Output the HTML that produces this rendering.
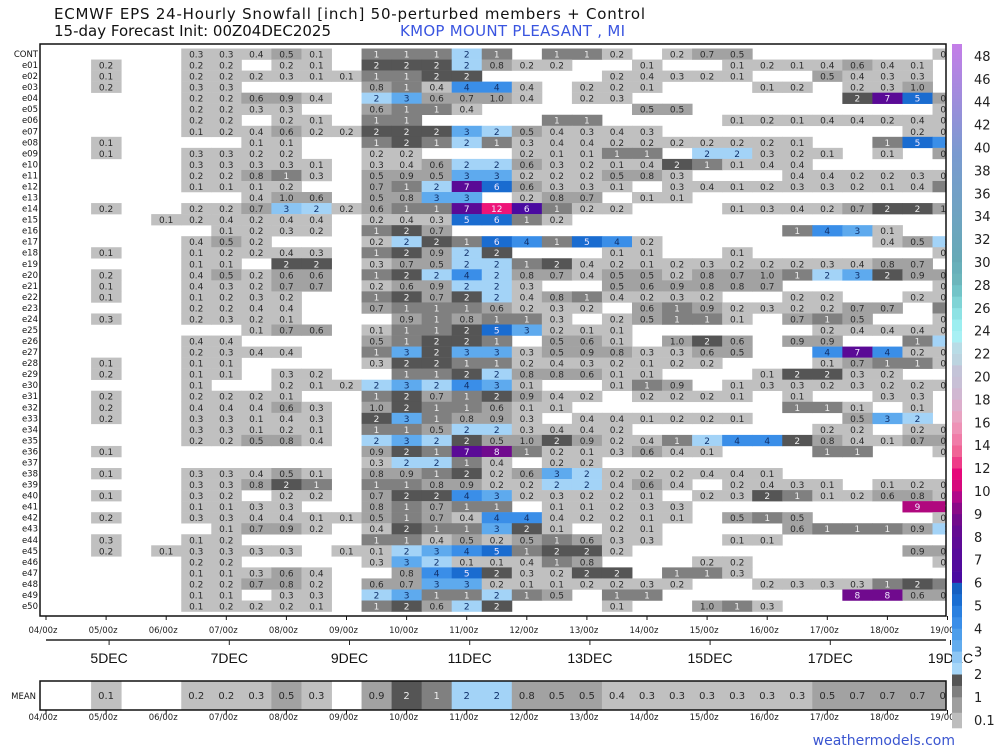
<!DOCTYPE html>
<html><head><meta charset="utf-8"><title>ECMWF EPS 24-Hourly Snowfall</title>
<style>
html,body{margin:0;padding:0;background:#fff;}
svg{display:block;font-family:"DejaVu Sans","Liberation Sans",sans-serif;}
</style></head>
<body>
<svg id="chart" width="1000" height="746" viewBox="0 0 1000 746" xmlns="http://www.w3.org/2000/svg">
  <text x="54" y="19" font-size="15" fill="#111" textLength="591" lengthAdjust="spacing">ECMWF EPS 24-Hourly Snowfall [inch]  50-perturbed members + Control</text>
  <text x="54" y="36" font-size="15" fill="#111">15-day Forecast Init: 00Z04DEC2025</text>
  <text x="400" y="36" font-size="15" fill="#3a55e0" textLength="225" lengthAdjust="spacing">KMOP MOUNT PLEASANT , MI</text>
  <defs>
    <clipPath id="gclip"><rect x="40" y="44" width="906" height="572"/></clipPath>
    <clipPath id="mclip"><rect x="40" y="681" width="906" height="29"/></clipPath>
    <linearGradient id="hiGrad" x1="0" y1="1" x2="0" y2="0">
      <stop offset="0" stop-color="#66aab6"/><stop offset="0.5" stop-color="#7a9ad0"/><stop offset="1" stop-color="#c47ee8"/>
    </linearGradient>
  </defs>
  <g id="grid" clip-path="url(#gclip)"></g>
  <rect x="40" y="44" width="906" height="572" fill="none" stroke="#111" stroke-width="1.5"/>
  <g id="rowlabels"></g>
  <g id="xaxis"></g>
  <g id="mean" clip-path="url(#mclip)"></g>
  <rect x="40" y="681" width="906" height="29" fill="none" stroke="#111" stroke-width="1.5"/>
  <text x="36" y="699" font-size="8.5" text-anchor="end" fill="#111">MEAN</text>
  <g id="cbar"></g>
  <text x="955" y="745" font-size="14" text-anchor="end" fill="#3a55d0">weathermodels.com</text>
</svg>
<script>
const members = ["CONT"].concat(Array.from({length:50},(_,i)=>"e"+String(i+1).padStart(2,"0")));
const rowCells = [
"5:.3 6:.3 7:.4 8:.5 9:.1 11:1.2 12:1.2 13:1.2 14:2.2 15:1.2 17:1.2 18:1.2 19:.2 21:.2 22:.7 23:.5 30:.1",
"2:.2 5:.2 6:.2 8:.2 9:.1 11:1.8 12:1.8 13:1.8 14:2.2 15:.8 16:.2 17:.2 20:.1 23:.1 24:.2 25:.1 26:.4 27:.6 28:.4 29:.1",
"2:.1 5:.2 6:.2 7:.2 8:.3 9:.1 10:.1 11:1.2 12:1.2 13:1.8 14:1.8 19:.2 20:.4 21:.3 22:.2 23:.1 26:.5 27:.4 28:.3 29:.3",
"2:.2 5:.3 6:.3 11:.8 12:1.2 13:.4 14:4.2 15:4.2 16:.4 18:.2 19:.2 20:.1 24:.1 25:.2 27:.2 28:.3 29:.97",
"5:.2 6:.2 7:.6 8:.9 9:.4 11:2.2 12:3.2 13:.6 14:.7 15:.97 16:.4 18:.2 19:.3 27:1.8 28:7.2 29:5.2 30:.8",
"5:.2 6:.2 7:.3 8:.3 11:.6 12:1.2 13:1.2 14:.4 20:.5 21:.5 30:.1",
"5:.2 6:.2 8:.2 9:.1 11:1.2 12:1.2 17:1.2 18:1.2 23:.1 24:.2 25:.1 26:.4 27:.4 28:.2 29:.4 30:.2",
"5:.1 6:.2 7:.4 8:.6 9:.2 10:.2 11:1.8 12:1.8 13:1.8 14:3.2 15:2.2 16:.5 17:.4 18:.3 19:.4 20:.3 29:.2 30:.1",
"2:.1 7:.1 8:.1 11:1.2 12:1.8 13:1.2 14:2.2 15:1.2 16:.3 17:.4 18:.4 19:.2 20:.2 21:.2 22:.2 23:.2 24:.2 25:.1 28:1.2 29:5.2 30:4.2",
"2:.1 5:.3 6:.3 7:.2 8:.2 11:.2 12:.2 16:.2 17:.1 18:.1 19:1.2 20:1.2 22:2.2 23:2.2 24:.3 25:.2 26:.1 28:.1 30:.9",
"5:.3 6:.3 7:.3 8:.3 9:.1 11:.3 12:.4 13:.6 14:2.2 15:2.2 16:.6 17:.3 18:.2 19:.1 20:.4 21:1.8 22:1.2 23:.1 24:.4 25:.4",
"5:.2 6:.2 7:.8 8:1.2 9:.3 11:.5 12:.9 13:.5 14:3.2 15:3.2 16:.2 17:.2 18:.2 19:.5 20:.8 21:.3 25:.4 26:.4 27:.2 28:.2 29:.3 30:.2",
"5:.1 6:.1 7:.1 8:.2 11:.7 12:1.2 13:2.2 14:7.2 15:5.8 16:.6 17:.3 18:.3 19:.1 21:.3 22:.4 23:.1 24:.2 25:.3 26:.3 27:.2 28:.1 29:.4 30:1.2",
"7:.4 8:.97 9:.6 11:.5 12:.8 13:3.2 14:3.2 16:.2 17:.8 18:.7 20:.1 21:.1",
"2:.2 5:.2 6:.2 7:.7 8:2.8 9:2.2 10:.2 11:.6 12:1.2 13:1.2 14:7.2 15:12 16:6.3 17:1.2 18:.2 19:.2 23:.1 24:.3 25:.4 26:.2 27:.7 28:1.8 29:1.8 30:.97",
"4:.1 5:.2 6:.4 7:.2 8:.4 9:.4 11:.2 12:.4 13:.3 14:5.2 15:5.8 16:1.2 17:.2",
"6:.1 7:.2 8:.3 9:.2 11:1.2 12:1.8 13:.7 25:1.2 26:4.2 27:3.2 28:.1",
"5:.4 6:.5 7:.2 11:.2 12:2.2 13:1.8 14:1.2 15:5.8 16:4.2 17:1.2 18:5.2 19:4.2 20:.2 28:.4 29:.5 30:2.2",
"2:.1 5:.1 6:.2 7:.2 8:.4 9:.3 11:1.2 12:1.8 13:.9 14:2.2 15:1.8 19:.1 20:.1 23:.1 30:.2",
"5:.1 6:.1 8:1.8 9:1.8 11:.3 12:.7 13:.5 14:2.2 15:2.2 16:1.2 17:1.8 18:.4 19:.2 20:.1 21:.2 22:.3 23:.2 24:.2 25:.2 26:.3 27:.4 28:.8 29:.7",
"2:.2 5:.4 6:.5 7:.2 8:.6 9:.6 11:1.2 12:1.8 13:2.2 14:4.2 15:2.2 16:.8 17:.7 18:.4 19:.5 20:.5 21:.2 22:.8 23:.7 24:.97 25:1.2 26:2.2 27:3.2 28:1.8 29:.9 30:.5",
"2:.1 5:.4 6:.3 7:.2 8:.7 9:.7 11:.2 12:.6 13:.9 14:2.2 15:2.2 16:.3 19:.5 20:.6 21:.9 22:.8 23:.8 24:.7 30:.1",
"2:.1 5:.1 6:.2 7:.3 8:.2 11:1.2 12:1.8 13:.7 14:1.8 15:2.2 16:.4 17:.8 18:1.2 19:.4 20:.2 21:.3 22:.2 25:.2 26:.2 29:.2 30:.2",
"5:.2 6:.2 7:.4 8:.4 11:.7 12:1.2 13:1.2 14:1.2 15:.6 16:.2 17:.3 18:.2 20:.6 21:1.2 22:.9 23:.2 24:.3 25:.2 26:.2 27:.7 28:.7 30:1.2",
"2:.3 5:.2 6:.3 7:.2 8:.1 12:.9 13:1.2 14:.8 15:1.2 16:1.2 17:.3 19:.2 20:.5 21:1.2 22:1.2 23:.1 25:.7 26:1.2 27:.5 30:.3",
"7:.1 8:.7 9:.6 11:.1 12:1.2 13:1.2 14:1.8 15:5.2 16:3.2 17:.2 18:.1 19:.1 26:.2 27:.4 28:.4 29:.4 30:.2",
"5:.4 6:.4 11:.5 12:1.2 13:1.8 14:1.8 15:1.2 17:.5 18:.6 19:.1 21:.97 22:1.8 23:.6 25:.9 26:.9 29:1.2 30:2.2",
"5:.2 6:.3 7:.4 8:.4 11:1.2 12:3.2 13:1.8 14:3.2 15:3.2 16:.3 17:.5 18:.9 19:.8 20:.3 21:.3 22:.6 23:.5 26:4.2 27:7.2 28:4.2 29:.2 30:.4",
"2:.1 5:.1 6:.1 11:.3 12:1.8 13:1.8 14:1.2 15:1.2 16:.2 17:.4 18:.3 19:.2 20:.1 21:.2 22:.2 26:.1 27:.7 28:1.2 29:1.2 30:.3",
"2:.2 5:.1 6:.1 8:.3 9:.2 12:1.2 13:1.2 14:1.8 15:2.2 16:.8 17:.8 18:.6 19:.1 20:.1 24:.1 25:1.8 26:1.8 27:.3 28:.2",
"5:.1 8:.2 9:.1 10:.2 11:2.2 12:3.2 13:2.2 14:4.2 15:3.2 16:.1 19:.1 20:1.2 21:.9 23:.1 24:.3 25:.3 26:.2 27:.3 28:.2 29:.2 30:.1",
"2:.2 5:.2 6:.2 7:.2 8:.1 11:1.2 12:1.8 13:.7 14:1.2 15:1.8 16:.9 17:.4 18:.2 20:.2 21:.2 22:.2 23:.1 25:.1 28:.3 29:.3",
"2:.2 5:.4 6:.4 7:.4 8:.6 9:.3 11:.97 12:1.8 13:1.2 14:1.2 15:.6 16:.1 17:.1 25:1.2 26:1.2 27:.1 29:.1",
"2:.2 5:.3 6:.3 7:.1 8:.4 9:.3 11:1.8 12:3.2 13:1.2 14:.8 15:.9 16:.3 18:.4 19:.4 20:.1 21:.2 22:.2 23:.1 27:.5 28:3.2 29:2.2",
"5:.3 6:.3 7:.1 8:.2 9:.1 11:1.2 12:1.2 13:.5 14:2.2 15:2.2 16:.3 17:.4 18:.4 19:.2 26:.2 27:.2 29:.2 30:.2",
"5:.2 6:.2 7:.5 8:.8 9:.4 11:2.2 12:3.2 13:2.2 14:1.8 15:.5 16:.97 17:1.8 18:.9 19:.2 20:.4 21:1.2 22:2.2 23:4.2 24:4.2 25:1.8 26:.8 27:.4 28:.1 29:.7 30:.8",
"2:.1 11:.9 12:1.8 13:1.2 14:7.2 15:8.2 16:1.2 17:.2 18:.1 19:.3 20:.6 21:.4 22:.1 26:1.2 27:1.2 30:.4",
"11:.3 12:2.2 13:2.2 14:1.2 15:.4 17:.2 18:.2",
"2:.1 5:.3 6:.3 7:.4 8:.5 9:.1 11:.8 12:.9 13:1.2 14:1.8 15:.2 16:.6 17:3.2 18:2.2 19:.2 20:.2 21:.2 22:.4 23:.4 24:.1",
"5:.3 6:.3 7:.8 8:1.8 9:1.2 11:1.2 12:1.2 13:.8 14:.9 15:.2 16:.2 17:2.2 18:2.2 19:.4 20:.6 21:.4 23:.2 24:.4 25:.3 26:.1 28:.1 29:.2 30:.3",
"2:.1 5:.3 6:.2 8:.2 9:.2 11:.7 12:1.8 13:1.8 14:4.2 15:3.2 16:.2 17:.3 18:.2 19:.2 20:.1 22:.2 23:.3 24:1.8 25:1.2 26:.1 27:.2 28:.6 29:.8 30:.3",
"5:.1 6:.1 7:.3 8:.3 11:.8 12:1.2 13:.7 14:1.2 15:1.2 17:.1 18:.1 19:.2 20:.3 21:.3 29:9.2 30:9.2",
"2:.2 5:.3 6:.3 7:.4 8:.4 9:.1 10:.1 11:.5 12:1.2 13:.7 14:.4 15:4.2 16:4.2 17:.4 18:.2 19:.2 20:.1 21:.1 23:.5 24:1.2 25:.5 30:.1",
"6:.1 7:.7 8:.9 9:.2 11:.4 12:1.8 13:1.2 14:1.2 15:3.2 16:1.8 17:.1 19:.2 20:.1 25:.6 26:1.2 27:1.2 28:1.2 29:.9 30:2.2",
"2:.3 5:.1 6:.2 11:1.2 12:1.2 13:.4 14:.5 15:.2 16:.5 17:1.2 18:.6 19:.3 20:.3 23:.1 24:.1",
"2:.2 4:.1 5:.3 6:.3 7:.3 8:.3 10:.1 11:.1 12:2.2 13:3.2 14:4.2 15:5.2 16:1.2 17:1.8 18:1.8 19:.2 29:.9 30:.9",
"5:.2 6:.2 11:.3 12:3.2 13:2.2 14:.1 15:.1 16:.4 17:1.2 18:.8 22:.2 23:.2 30:.2",
"5:.1 6:.1 7:.3 8:.6 9:.4 12:.8 13:4.2 14:5.2 15:1.8 16:.3 17:.2 18:1.8 19:1.8 21:1.2 22:1.2 23:.3",
"5:.2 6:.2 7:.7 8:.8 9:.2 11:.6 12:.7 13:3.2 14:3.2 15:.2 16:.1 17:.1 18:.2 19:.2 20:.3 21:.2 24:.2 25:.3 26:.3 27:.3 28:1.2 29:1.8 30:1.2",
"5:.1 6:.1 8:.3 9:.3 11:2.2 12:3.2 13:1.2 14:1.2 15:2.2 16:1.2 17:.5 19:1.2 20:1.2 27:8.2 28:8.2 29:.6 30:.8",
"5:.1 6:.2 7:.2 8:.2 9:.1 11:1.2 12:1.8 13:.6 14:2.2 15:1.8 19:.1 22:.97 23:1.2 24:.3"
];
const meanCells = "2:.1 5:.2 6:.2 7:.3 8:.5 9:.3 11:.9 12:1.8 13:1.2 14:2.2 15:2.2 16:.8 17:.5 18:.5 19:.4 20:.3 21:.3 22:.3 23:.3 24:.3 25:.3 26:.5 27:.7 28:.7 29:.7 30:.7";
const dayLabels = ["04","05","06","07","08","09","10","11","12","13","14","15","16","17","18","19"];
const dateLabels = ["5DEC","7DEC","9DEC","11DEC","13DEC","15DEC","17DEC","19DEC"];
const dateDays = [1,3,5,7,9,11,13,15];
const cbLevels = ["0.1","1","2","3","4","5","6","7","8","9","10","12","14","16","18","20","22","24","26","28","30","32","34","36","38","40","42","44","46","48"];
const cbColors = ["#bdbdbd","#9e9e9e","#7f7f7f","#555555","#a6d6f8","#8dc6f4","#62acee","#4d9eeb","#3a8ee8","#2a80e0",
"#1a6ed2","#1660c2","#4a0aa0","#500a9c","#580a9a","#5e0a96","#640a92","#720a8c","#8a0a88","#b0088a",
"#d6087c","#e6087a","#ee3c88","#f06496","#f07ca8","#ee92b6","#e8a4c2","#dcaecc","#d0b8d2","#c8c0d6",
"#c4c4d8","#bcd4e0","#b8dce6","#a8f0f4","#9ceef0","#8ee2e4","#80d4d6","#72c4c8","#6cb6bc","#68b0ba"];

const NS="http://www.w3.org/2000/svg";
function mk(tag, attrs, parent){const e=document.createElementNS(NS,tag);for(const k in attrs)e.setAttribute(k,attrs[k]);parent.appendChild(e);return e;}
function X(k){return 46+30.05*k;}
function Y(r){return 48.5+11.04*r;}
function parse(s){return s.trim().split(/\s+/).map(p=>{const a=p.split(":");return [parseInt(a[0]),parseFloat(a[1])];});}
function colorFor(v){
  if(v<0.5)return "#c0c0c0"; if(v<1)return "#a2a2a2"; if(v<1.5)return "#808080"; if(v<2)return "#555555";
  if(v<2.5)return "#a3d3f7"; if(v<3)return "#8ac4f3"; if(v<4)return "#5eaaee"; if(v<5)return "#3a8ee8";
  if(v<6)return "#1a6cd0"; if(v<7)return "#4a0aa0"; if(v<8)return "#5a0a96"; if(v<9)return "#700a8e";
  if(v<10)return "#b0087e"; if(v<12)return "#e0087a"; return "#ee1478";
}
function textColor(v){ if(v<1)return "#2a2a2a"; if(v<2)return "#eeeeee"; if(v<5)return "#10306a"; return "#f0e8ff"; }
function fmt(v){ if(v<0.95)return v.toFixed(1); if(v<1)return "1.0"; return String(Math.round(v)); }

const grid=document.getElementById("grid");
rowCells.forEach((s,r)=>{
  parse(s).forEach(([k,v])=>{
    const rc=mk("rect",{x:X(k)-15,y:Y(r),width:30.5,height:11.3,fill:colorFor(v)},grid);
    
    
  });
});
rowCells.forEach((s,r)=>{
  parse(s).forEach(([k,v])=>{
    const t=mk("text",{x:X(k),y:Y(r)+9,"font-size":9,"text-anchor":"middle",fill:textColor(v)},grid);
    t.textContent=fmt(v);
    
    
  });
});
const rl=document.getElementById("rowlabels");
members.forEach((m,r)=>{
  const t=mk("text",{x:38,y:Y(r)+8.5,"font-size":8.5,"text-anchor":"end",fill:"#111"},rl);
  t.textContent=m;
  
  
});
const xa=document.getElementById("xaxis");
dayLabels.forEach((d,i)=>{
  const x=X(2*i);
  const t1=mk("text",{x:x-3,y:633,"font-size":8.5,"text-anchor":"middle",fill:"#222"},xa);
  t1.textContent=d+"/00z";
  
  
  const t2=mk("text",{x:x-3,y:720,"font-size":8.5,"text-anchor":"middle",fill:"#222"},xa);
  t2.textContent=d+"/00z";
  
  
  const tk=mk("line",{x1:x,x2:x,y1:616,y2:620,stroke:"#111","stroke-width":1},xa);
  
  
  const tk2=mk("line",{x1:x,x2:x,y1:710,y2:714,stroke:"#111","stroke-width":1},xa);
  
  
});
const sep=mk("line",{x1:46,x2:946,y1:640,y2:640,stroke:"#222","stroke-width":1.5},xa);


dateLabels.forEach((d,i)=>{
  const x=X(2*dateDays[i])+3;
  const tk=mk("line",{x1:x,x2:x,y1:640,y2:645,stroke:"#222","stroke-width":1},xa);
  
  
  const t=mk("text",{x:x,y:663,"font-size":14,"text-anchor":"middle",fill:"#111","font-family":"Liberation Sans, sans-serif"},xa);
  t.textContent=d;
  
  
});
const mg=document.getElementById("mean");
parse(meanCells).forEach(([k,v])=>{
  const rc=mk("rect",{x:X(k)-15,y:681,width:30.5,height:29,fill:colorFor(v)},mg);
  
  
  const t=mk("text",{x:X(k),y:699,"font-size":10,"text-anchor":"middle",fill:textColor(v)},mg);
  t.textContent=fmt(v);
  
  
});
const cb=document.getElementById("cbar");
function CY(i){return 720-22.9*i;}
for(let i=0;i<20;i++){
  const y0=(i===0)?728:CY(i), y1=CY(i+1), ym=(y0+y1)/2;
  const a=mk("rect",{x:952,y:ym,width:10,height:y0-ym+0.3,fill:cbColors[2*i]},cb);
  
  
  const b=mk("rect",{x:952,y:y1,width:10,height:ym-y1+0.3,fill:cbColors[2*i+1]},cb);
  
  
}
const hi=mk("rect",{x:952,y:44,width:10,height:CY(20)-44+0.3,fill:"url(#hiGrad)"},cb);


cbLevels.forEach((l,i)=>{
  const t=mk("text",{x:974,y:CY(i)+5,"font-size":13,fill:"#222"},cb);
  t.textContent=l;
  
  
});
</script>
</body></html>
